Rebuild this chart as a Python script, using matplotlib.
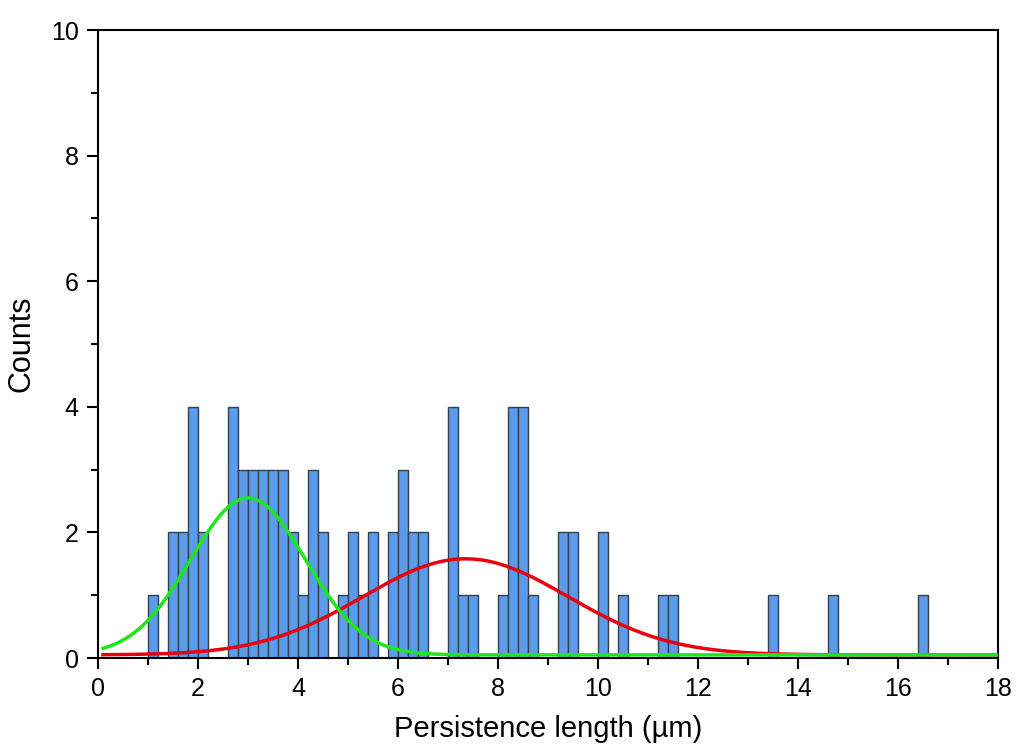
import matplotlib
matplotlib.use("Agg")
import matplotlib.pyplot as plt
from matplotlib.ticker import MultipleLocator
import numpy as np

plt.rcParams['font.family'] = ['Liberation Sans', 'DejaVu Sans']

# histogram bins (left edge, um) and counts, bin width 0.2 um
bin_left = [1.0, 1.4, 1.6, 1.8, 2.0, 2.6, 2.8, 3.0, 3.2, 3.4, 3.6, 3.8,
            4.0, 4.2, 4.4, 4.8, 5.0, 5.2, 5.4, 5.8, 6.0, 6.2, 6.4,
            7.0, 7.2, 7.4, 8.0, 8.2, 8.4, 8.6, 9.2, 9.4, 10.0, 10.4,
            11.2, 11.4, 13.4, 14.6, 16.4]
counts = [1, 2, 2, 4, 2, 4, 3, 3, 3, 3, 3, 2,
          1, 3, 2, 1, 2, 1, 2, 2, 3, 2, 2,
          4, 1, 1, 1, 4, 4, 1, 2, 2, 2, 1,
          1, 1, 1, 1, 1]
bin_width = 0.2

# gaussian fit parameters: (offset, amplitude, centre, sigma)
fit_green = (0.05, 2.50, 3.00, 1.15)
fit_red = (0.05, 1.53, 7.35, 2.05)


def gauss(x, y0, a, xc, s):
    return y0 + a * np.exp(-(x - xc) ** 2 / (2 * s ** 2))


fig = plt.figure(figsize=(10.19, 7.56), dpi=100)
ax = fig.add_axes([0.0962, 0.1296, 0.8832, 0.8307])

ax.bar(bin_left, counts, width=bin_width, align='edge',
       color='#5b9bea', edgecolor='#36404a', linewidth=1.0, zorder=2)

xf = np.linspace(0.1, 18, 400)
ax.plot(xf, gauss(xf, *fit_red), color='#e80010', lw=2.5, zorder=3)
ax.plot(xf, gauss(xf, *fit_green), color='#1ee61e', lw=2.5, zorder=4)

ax.set_xlim(0, 18)
ax.set_ylim(0, 10)
ax.xaxis.set_major_locator(MultipleLocator(2))
ax.xaxis.set_minor_locator(MultipleLocator(1))
ax.yaxis.set_major_locator(MultipleLocator(2))
ax.yaxis.set_minor_locator(MultipleLocator(1))
ax.tick_params(which='major', direction='out', length=8, width=1.5,
               labelsize=18, pad=6)
ax.tick_params(which='minor', direction='out', length=5, width=1.5)
for sp in ax.spines.values():
    sp.set_linewidth(1.5)

ax.set_xlabel('Persistence length (\u00b5m)', fontsize=21, labelpad=10)
ax.set_ylabel('Counts', fontsize=22, labelpad=10)

fig.savefig('out.png', dpi=100)
